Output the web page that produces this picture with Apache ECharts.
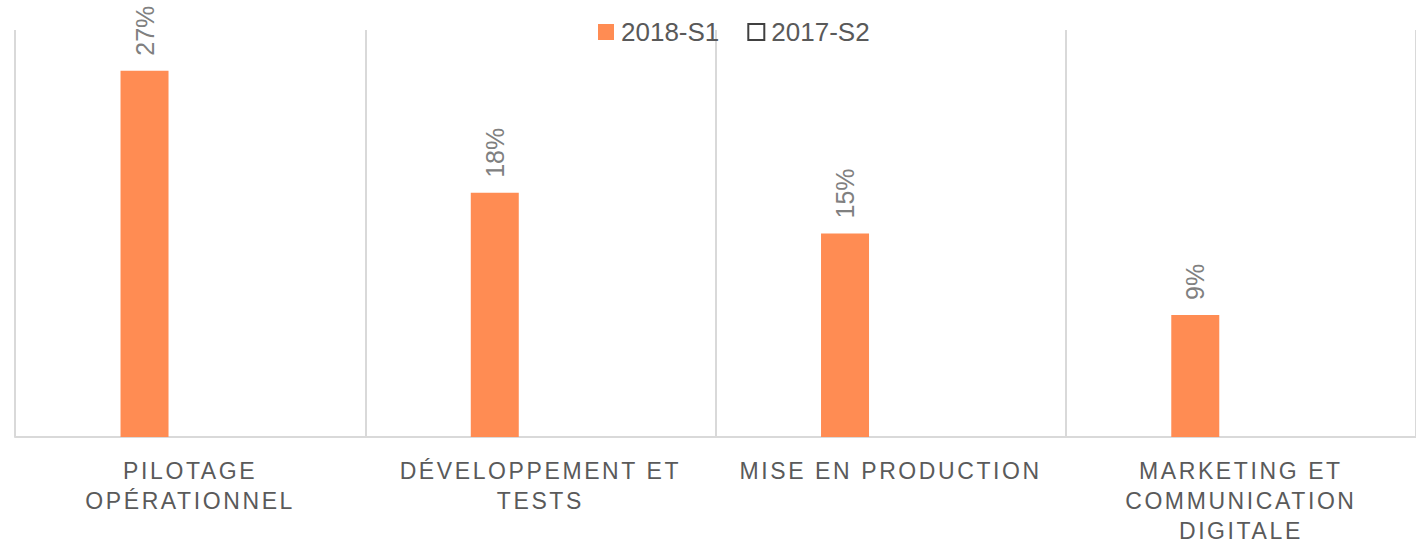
<!DOCTYPE html>
<html>
<head>
<meta charset="utf-8">
<script src="https://cdn.jsdelivr.net/npm/echarts@6/dist/echarts.min.js"></script>
<style>
  html, body { margin: 0; padding: 0; background: #fff; }
  #chart { width: 1416px; height: 546px; }
  /* spaced-out capitals on the category labels */
  #chart text[fill="#5a5a5a"] { letter-spacing: 2.6px; }
</style>
</head>
<body>
<div id="chart"></div>
<script>
const categories = ['PILOTAGE\nOPÉRATIONNEL', 'DÉVELOPPEMENT ET\nTESTS', 'MISE EN PRODUCTION', 'MARKETING ET\nCOMMUNICATION\nDIGITALE']
const seriesNames = ['2018-S1', '2017-S2']
const values2018S1 = [27, 18, 15, 9]
const values2017S2 = [null, null, null, null]

const fontMain = "'Liberation Sans', Arial, sans-serif"

const chart = echarts.init(document.getElementById('chart'), null, { renderer: 'svg' })

const option = {
  animation: false,
  backgroundColor: '#fff',
  legend: {
    top: 14,
    left: 593,
    itemWidth: 16,
    itemHeight: 16,
    itemGap: 28,
    icon: 'rect',
    textStyle: {
      fontFamily: fontMain,
      fontSize: 26,
      color: '#595959',
      padding: [0, 0, 0, 2]
    },
    data: seriesNames
  },
  grid: {
    left: 15,
    top: 30,
    width: 1407,
    height: 408
  },
  xAxis: {
    type: 'category',
    data: categories,
    axisLine: { lineStyle: { color: '#d9d9d9', width: 2 } },
    axisTick: { show: false },
    splitLine: { show: true, lineStyle: { color: '#d9d9d9', width: 2 } },
    axisLabel: {
      interval: 0,
      margin: 19,
      fontFamily: fontMain,
      fontSize: 23,
      lineHeight: 30,
      color: '#5a5a5a'
    }
  },
  yAxis: {
    type: 'value',
    min: 0,
    max: 30,
    show: false,
    splitLine: { show: false }
  },
  series: [
    {
      name: seriesNames[0],
      type: 'bar',
      data: values2018S1,
      barWidth: 48,
      barGap: '90%',
      itemStyle: { color: '#ff8c53' },
      label: {
        show: true,
        position: 'top',
        distance: 15,
        rotate: 90,
        align: 'left',
        verticalAlign: 'middle',
        formatter: '{c}%',
        fontFamily: fontMain,
        fontSize: 25,
        color: '#808080'
      }
    },
    {
      name: seriesNames[1],
      type: 'bar',
      data: values2017S2,
      barWidth: 48,
      itemStyle: { color: '#ffffff', borderColor: '#404040', borderWidth: 1.5 }
    }
  ]
}

chart.setOption(option)
</script>
</body>
</html>
